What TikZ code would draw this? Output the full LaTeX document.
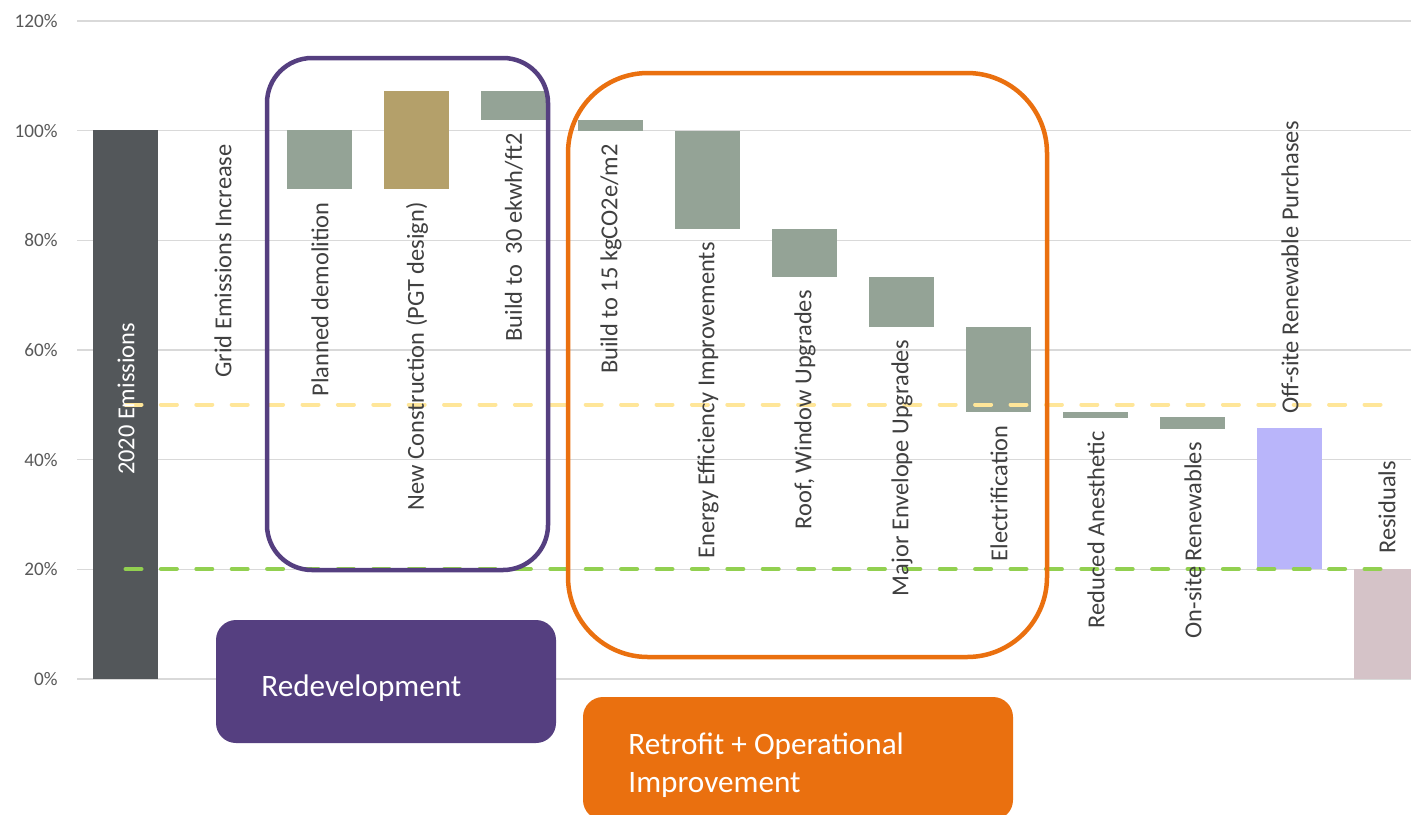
\documentclass[tikz,border=0pt]{standalone}
\usepackage{fontspec}
\setmainfont{Carlito}
\definecolor{gridc}{HTML}{D9D9D9}
\definecolor{axisc}{HTML}{595959}
\definecolor{labc}{HTML}{404040}
\definecolor{darkbar}{HTML}{53575A}
\definecolor{sage}{HTML}{94A396}
\definecolor{tanbar}{HTML}{B4A06A}
\definecolor{lav}{HTML}{B9B5FA}
\definecolor{resid}{HTML}{D5C3C8}
\definecolor{purp}{HTML}{553F80}
\definecolor{oran}{HTML}{EA700F}
\definecolor{yel}{HTML}{FFE699}
\definecolor{grn}{HTML}{92D050}
\begin{document}
\begin{tikzpicture}[x=0.5pt,y=-0.5pt,
  gridline/.style={draw=gridc, line width=0.7pt},
  axislab/.style={font=\fontsize{9.6}{11}\selectfont, text=axisc, anchor=east, inner sep=0pt},
  catlab/.style={font=\fontsize{12.2}{14}\selectfont, text=labc, rotate=90, inner sep=0pt},
  downlab/.style={catlab, anchor=east},
  uplab/.style={catlab, anchor=west},
  target/.style={line width=2pt, dash pattern=on 8pt off 9.7pt, line cap=round},
  groupbox/.style={line width=2.25pt},
  tagbox/.style={text=white, font=\fontsize{15.6}{19}\selectfont, inner sep=0pt, align=left}
]
\useasboundingbox (0,0) rectangle (1411,814);
\fill[white] (0,0) rectangle (1411,814);

% gridlines and axis labels
\foreach \i/\t in {0/0\%,1/20\%,2/40\%,3/60\%,4/80\%,5/100\%,6/120\%}{
  \draw[gridline] (77,{679-109.67*\i}) -- (1411,{679-109.67*\i});
  \node[axislab] (ax\i) at (58,{679-109.67*\i}) {\t};
}

% bars
\fill[darkbar] (93,130) rectangle (158,679);
\fill[sage] (287,130) rectangle (352,189);
\fill[tanbar] (384,91) rectangle (449,189);
\fill[sage] (481,91) rectangle (546,120);
\fill[sage] (578,120) rectangle (643,131);
\fill[sage] (675,131) rectangle (740,229);
\fill[sage] (772,229) rectangle (837,277);
\fill[sage] (869,277) rectangle (934,327);
\fill[sage] (966,327) rectangle (1031,412);
\fill[sage] (1063,412) rectangle (1128,418);
\fill[sage] (1160,417) rectangle (1225,429);
\fill[lav] (1257,428) rectangle (1322,569);
\fill[resid] (1354,569) rectangle (1411,679);

% target lines
\draw[target, yel] (125.5,404.5) -- (1386.5,404.5);
\draw[target, grn] (125.5,569) -- (1386.5,569);

% category labels
\node[catlab, text=white] (l0) at (126,399) {2020 Emissions};
\node[downlab] (l1) at (223,144) {Grid Emissions Increase};
\node[downlab] (l2) at (320,202) {Planned demolition};
\node[downlab] (l3) at (417,202) {New Construction (PGT design)};
\node[downlab] (l4) at (514,133) {Build to\ \ 30 ekwh/ft2};
\node[downlab] (l5) at (611,144) {Build to 15 kgCO2e/m2};
\node[downlab] (l6) at (708,242) {Energy Efficiency Improvements};
\node[downlab] (l7) at (805,290) {Roof, Window Upgrades};
\node[downlab] (l8) at (902,340) {Major Envelope Upgrades};
\node[downlab] (l9) at (999,425) {Electrification};
\node[downlab] (l10) at (1096,431) {Reduced Anesthetic};
\node[downlab] (l11) at (1193,442) {On-site Renewables};
\node[uplab] (l12) at (1290,414) {Off-site Renewable Purchases};
\node[uplab] (l13) at (1387,554) {Residuals};

% group outlines
\draw[groupbox, purp, rounded corners=22.5pt] (267,58) rectangle (548,570);
\draw[groupbox, oran, rounded corners=40pt] (568,73) rectangle (1047,657);

% group tags
\fill[purp, rounded corners=10pt] (216,620) rectangle (556,743);
\node[tagbox, anchor=base west] (redev) at (261,696) {Redevelopment};
\fill[oran, rounded corners=10pt] (583,697) rectangle (1013,820);
\node[tagbox, anchor=base west] (retro1) at (628,754) {Retrofit + Operational};
\node[tagbox, anchor=base west] (retro2) at (628,792) {Improvement};
\end{tikzpicture}
\end{document}
